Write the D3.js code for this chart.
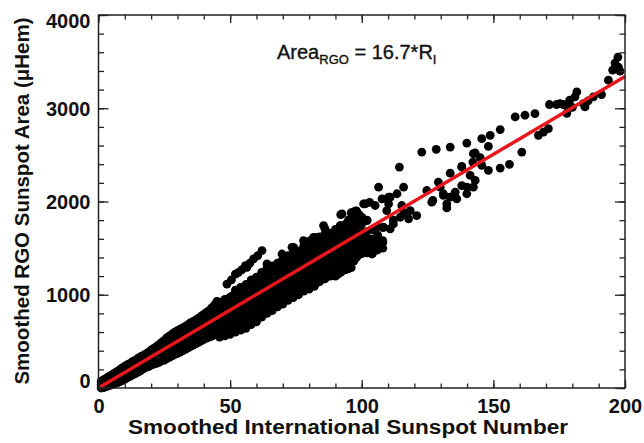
<!DOCTYPE html>
<html>
<head>
<meta charset="utf-8">
<script src="https://cdn.jsdelivr.net/npm/d3@7"></script>
<style>
  html, body { margin: 0; padding: 0; background: #fff; }
  svg { display: block; }
  text { font-family: "Liberation Sans", Arial, Helvetica, sans-serif; fill: #111; }
</style>
</head>
<body>
<svg id="chart" width="644" height="443"></svg>
<script>
// ---- Data ----
const xTickValues = [0, 50, 100, 150, 200];
const yTickValues = [0, 1000, 2000, 3000, 4000];
const xMinorValues = d3.range(0, 201, 10);
const yMinorValues = d3.range(0, 4001, 200);
const fitSlope = 16.7;
const fitRange = [0, 200];

// low-activity band [R, Area]
const lowBand = [
  [1,0],[1,35],[1,70],[2,5],[2,40],[2,90],[3,15],[3,55],[3,105],[4,25],[4,70],[4,125],
  [5,35],[5,85],[5,140],[6,45],[6,100],[6,160],[7,55],[7,115],[7,175],[8,65],[8,130],[8,195],
  [9,80],[9,150],[9,215],[10,95],[10,165],[10,235],[11,110],[11,180],[11,250],
  [12,125],[12,200],[12,265],[13,140],[13,215],[13,285],[14,155],[14,230],[14,300],
  [15,170],[15,250],[15,320],[16,185],[16,265],[16,335],[17,205],[17,280],[17,350],
  [18,220],[18,300],[18,365],[19,230],[19,315],[19,385],[20,245],[20,330],[20,405],
  [21,255],[21,345],[21,425],[22,265],[22,365],[22,445],[23,275],[23,380],[23,465],
  [24,290],[24,400],[24,490],
  [25,300],[25,355],[25,410],[25,460],[25,510],[26,315],[26,370],[26,430],[26,485],[26,540],
  [27,330],[27,390],[27,445],[27,500],[27,560],[28,345],[28,400],[28,460],[28,520],[28,580],
  [29,360],[29,420],[29,480],[29,540],[29,600],[30,370],[30,430],[30,495],[30,555],[30,615],
  [31,385],[31,445],[31,510],[31,570],[31,630],[32,400],[32,465],[32,530],[32,590],[32,645],
  [33,415],[33,480],[33,545],[33,600],[33,660],[34,430],[34,495],[34,560],[34,620],[34,680],
  [35,445],[35,510],[35,575],[35,640],[35,700],[36,460],[36,525],[36,590],[36,655],[36,715],
  [37,475],[37,540],[37,610],[37,670],[37,730],[38,490],[38,555],[38,625],[38,690],[38,750],
  [39,505],[39,570],[39,640],[39,705],[39,770],[40,520],[40,590],[40,660],[40,725],[40,790],
  [41,535],[41,605],[41,680],[41,745],[41,810],[42,545],[42,620],[42,700],[42,765],[42,830],
  [43,555],[43,635],[43,715],[43,790],[43,860],[44,570],[44,650],[44,730],[44,810],[44,890],
  [45,580],[45,665],[45,750],[45,840],[45,930]
];

// moderate-activity band [R, Area]
const midBand = [
  [46,545],[46,620],[46,700],[46,780],[46,860],[46,920],
  [48,560],[48,640],[48,720],[48,800],[48,880],[48,950],
  [50,575],[50,655],[50,735],[50,815],[50,895],[50,975],
  [52,600],[52,680],[52,760],[52,840],[52,920],[52,1000],[52,1050],
  [54,620],[54,700],[54,780],[54,860],[54,940],[54,1020],[54,1080],
  [56,640],[56,720],[56,800],[56,880],[56,960],[56,1040],[56,1110],
  [58,680],[58,760],[58,840],[58,920],[58,1000],[58,1080],[58,1160],
  [60,710],[60,790],[60,870],[60,950],[60,1030],[60,1110],[60,1190],
  [62,760],[62,840],[62,920],[62,1000],[62,1080],[62,1160],[62,1240],
  [64,800],[64,880],[64,960],[64,1040],[64,1120],[64,1200],[64,1290],
  [66,830],[66,910],[66,990],[66,1070],[66,1150],[66,1230],[66,1310],
  [68,870],[68,950],[68,1030],[68,1110],[68,1190],[68,1270],[68,1340],
  [70,900],[70,980],[70,1060],[70,1140],[70,1220],[70,1300],[70,1380],
  [72,940],[72,1020],[72,1100],[72,1180],[72,1260],[72,1340],[72,1420],
  [74,970],[74,1050],[74,1130],[74,1210],[74,1290],[74,1370],[74,1450],
  [76,1000],[76,1080],[76,1160],[76,1240],[76,1320],[76,1400],[76,1470],
  [78,1040],[78,1120],[78,1200],[78,1280],[78,1360],[78,1440],[78,1530],
  [80,1060],[80,1140],[80,1220],[80,1300],[80,1380],[80,1460],[80,1540],
  [82,1090],[82,1170],[82,1250],[82,1330],[82,1410],[82,1490],[82,1580],
  [84,1140],[84,1220],[84,1300],[84,1380],[84,1460],[84,1540],[84,1620],
  [86,1170],[86,1250],[86,1330],[86,1410],[86,1490],[86,1570],[86,1650],[86,1710],
  [88,1200],[88,1280],[88,1360],[88,1440],[88,1520],[88,1600],[88,1660],
  [90,1200],[90,1290],[90,1380],[90,1460],[90,1540],[90,1620],[90,1700],
  [92,1240],[92,1320],[92,1400],[92,1480],[92,1560],[92,1640],[92,1740],[92,1860],
  [94,1270],[94,1350],[94,1430],[94,1510],[94,1590],[94,1670],[94,1760],
  [96,1290],[96,1370],[96,1450],[96,1530],[96,1610],[96,1700],[96,1800],[96,1880],
  [98,1400],[98,1480],[98,1560],[98,1640],[98,1720],[98,1820],[98,1900],
  [100,1440],[100,1520],[100,1600],[100,1680],[100,1760],[100,1830],
  [102,1450],[102,1530],[102,1600],[102,1680],[102,1800],
  [104,1440],[104,1520],[104,1600],[104,1700],
  [106,1480],[106,1560],[106,1640],[106,1730],
  [108,1500],[108,1580],[108,1720],
  [47,600],[47,700],[47,820],[49,610],[49,730],[49,850],[49,950],[51,640],[51,760],[51,880],[51,990],
  [53,650],[53,780],[53,900],[53,1030],[55,680],[55,800],[55,930],[55,1060],[57,700],[57,830],[57,970],[57,1100],
  [59,740],[59,860],[59,1000],[59,1140],[61,760],[61,900],[61,1040],[61,1180],[63,820],[63,950],[63,1080],[63,1220],
  [65,850],[65,990],[65,1110],[65,1260],[67,880],[67,1010],[67,1150],[67,1290],[69,920],[69,1050],[69,1190],[69,1320],
  [71,960],[71,1100],[71,1230],[71,1360],[73,1000],[73,1140],[73,1280],[73,1400],[75,1030],[75,1170],[75,1310],[75,1430],
  [77,1060],[77,1200],[77,1340],[77,1470],[79,1090],[79,1230],[79,1370],[79,1500],[81,1100],[81,1260],[81,1400],[81,1530],
  [83,1130],[83,1280],[83,1420],[83,1570],[85,1170],[85,1310],[85,1450],[85,1600],[87,1200],[87,1340],[87,1480],[87,1620],
  [89,1230],[89,1370],[89,1500],[89,1640],[91,1220],[91,1350],[91,1500],[91,1660],[93,1260],[93,1400],[93,1540],[93,1700],
  [95,1280],[95,1420],[95,1560],[95,1720],[97,1360],[97,1500],[97,1640],[97,1780],[99,1430],[99,1560],[99,1700],[99,1860]
];

// upper branch and scattered points [R, Area]
const upperBranch = [
  [48.8,1115],[50.5,1160],[52,1222],[53.2,1240],[54.5,1270],[55.8,1312],[56.4,1294],[57.5,1340],
  [58.9,1384],[60.5,1420],[62.1,1473],[64,1330],[69.1,1348],[69.7,1437],[72.9,1401],[73.5,1509],
  [74.1,1509],[77.3,1419],[77.9,1581],[79.2,1563],[80.5,1581],[81.7,1616],[83,1616],[85.5,1742],
  [87.4,1634],[90.6,1652],[91.8,1742],[92.5,1867],[95,1778],[95,1803],[96.9,1885],[97.5,1896],
  [100,1831],[100.7,1975],[101.3,1975],[103,1990],[102,1796],[105.1,1957],[106.4,2154],
  [107.7,2029],[110.2,2046],[110.2,1975],[113.4,2083],[115.9,2154],[114.3,2369],
  [98.8,1545],[100.7,1455],[102,1599],[103.9,1437],[105.8,1581],[107,1509],[104,1520],[106,1630],
  [108,1560],[108.3,1724],[110.8,1706],[109.5,1903],[110.8,2046],[112,1800],[114.6,1831],
  [115.2,1957],[117.8,1814],[118.4,1903],[120.9,1849],[116,1880],[112,1760]
];

const highActivity = [
  [122.8,2530],[128.3,2559],[133.6,2584],[139.9,2627],
  [124.7,2118],[126.6,1993],[127,2011],[129.1,2208],[129.8,2154],[131,2065],[131,2083],[132.3,1931],
  [132.3,1975],[133.6,2046],[135.5,2100],[136.1,2029],[139.9,2083],[138,2170],[140,2154],[142.4,2154],
  [143.1,2226],[141.2,2280],[133.6,2304],[138,2369],[138,2376],[142.2,2423],[145.6,2387],[148.1,2333],
  [152.6,2358],[156.1,2398],[142.4,2513],[143.1,2520],[145,2470],[148.1,2591],[145.6,2674],[148.8,2710],
  [152.6,2771],[160.8,2530],[158.3,2907],[162,2925],[165.8,2943],[167.1,2710],[169,2745],[170.9,2781],
  [171.3,3040],[174,3040],[176.6,3040],[178.4,3000],[177.9,2946],[177.9,3032],[179,3086],[181,3122],
  [181.7,3175],[184.8,3014],[184.2,3050],[175.3,3050],[188,3122],[191.1,3147],[193.7,3301],[195.3,3409],
  [196.2,3484],[197.3,3548],[198.1,3398],[197.5,3440],[186,3080],[180,3010]
];

// ---- Layout ----
const svg = d3.select("#chart");
const plot = { left: 98.5, right: 625, top: 15, bottom: 388 };
const xScale = d3.scaleLinear().domain([0, 200]).range([plot.left, plot.right]);
const yScale = d3.scaleLinear().domain([0, 4000]).range([plot.bottom, plot.top]);

// points
const allPoints = lowBand.concat(midBand, upperBranch, highActivity);
svg.append("g").selectAll("circle").data(allPoints).join("circle")
  .attr("cx", d => xScale(d[0])).attr("cy", d => yScale(d[1])).attr("r", 4.4)
  .attr("fill", "#000");

// fit line
svg.append("line")
  .attr("x1", xScale(fitRange[0])).attr("y1", yScale(fitSlope * fitRange[0]))
  .attr("x2", xScale(fitRange[1])).attr("y2", yScale(fitSlope * fitRange[1]))
  .attr("stroke", "#e8161c").attr("stroke-width", 3.5);

// axes
function styleAxis(g) {
  g.select(".domain").remove();
  g.selectAll(".tick line").attr("stroke", "#222").attr("stroke-width", 1.3);
  g.selectAll("text").attr("font-size", 20).attr("font-weight", "bold")
    .attr("font-family", '"Liberation Sans", Arial, sans-serif').attr("fill", "#111");
}
const gBottom = svg.append("g").attr("transform", `translate(0,${plot.bottom})`)
  .call(d3.axisBottom(xScale).tickValues(xTickValues).tickSize(-8).tickPadding(11).tickFormat(d3.format("d")));
styleAxis(gBottom);
const gBottomMinor = svg.append("g").attr("transform", `translate(0,${plot.bottom})`)
  .call(d3.axisBottom(xScale).tickValues(xMinorValues).tickSize(-4.5).tickFormat(""));
styleAxis(gBottomMinor);
const gTop = svg.append("g").attr("transform", `translate(0,${plot.top})`)
  .call(d3.axisTop(xScale).tickValues(xTickValues).tickSize(-8).tickFormat(""));
styleAxis(gTop);
const gTopMinor = svg.append("g").attr("transform", `translate(0,${plot.top})`)
  .call(d3.axisTop(xScale).tickValues(xMinorValues).tickSize(-4.5).tickFormat(""));
styleAxis(gTopMinor);

const gLeft = svg.append("g").attr("transform", `translate(${plot.left},0)`)
  .call(d3.axisLeft(yScale).tickValues(yTickValues).tickSize(-10).tickPadding(8).tickFormat(d3.format("d")));
styleAxis(gLeft);
gLeft.selectAll(".tick text").attr("dy", d => d === 0 ? "-0.05em" : d === 4000 ? "0.62em" : "0.34em");
const gLeftMinor = svg.append("g").attr("transform", `translate(${plot.left},0)`)
  .call(d3.axisLeft(yScale).tickValues(yMinorValues).tickSize(-5.5).tickFormat(""));
styleAxis(gLeftMinor);
const gRight = svg.append("g").attr("transform", `translate(${plot.right},0)`)
  .call(d3.axisRight(yScale).tickValues(yTickValues).tickSize(-10).tickFormat(""));
styleAxis(gRight);
const gRightMinor = svg.append("g").attr("transform", `translate(${plot.right},0)`)
  .call(d3.axisRight(yScale).tickValues(yMinorValues).tickSize(-5.5).tickFormat(""));
styleAxis(gRightMinor);

// frame
svg.append("rect")
  .attr("x", plot.left).attr("y", plot.top)
  .attr("width", plot.right - plot.left).attr("height", plot.bottom - plot.top)
  .attr("fill", "none").attr("stroke", "#222").attr("stroke-width", 1.5);

// axis titles
svg.append("text")
  .attr("x", 348).attr("y", 434).attr("text-anchor", "middle")
  .attr("font-size", 20).attr("font-weight", "bold")
  .attr("textLength", 440).attr("lengthAdjust", "spacingAndGlyphs")
  .text("Smoothed International Sunspot Number");
svg.append("text")
  .attr("transform", "translate(29,201) rotate(-90)").attr("text-anchor", "middle")
  .attr("font-size", 20.5).attr("font-weight", "bold")
  .text("Smoothed RGO Sunspot Area (\u03bcHem)");

// annotation
const ann = svg.append("text").attr("x", 277).attr("y", 59).attr("font-size", 20)
  .attr("stroke", "#111").attr("stroke-width", 0.35);
ann.append("tspan").text("Area");
ann.append("tspan").attr("font-size", 13).attr("dy", 5).text("RGO");
ann.append("tspan").attr("dy", -5).text(" = 16.7*R");
ann.append("tspan").attr("font-size", 13).attr("dy", 5).text("I");
</script>
</body>
</html>
